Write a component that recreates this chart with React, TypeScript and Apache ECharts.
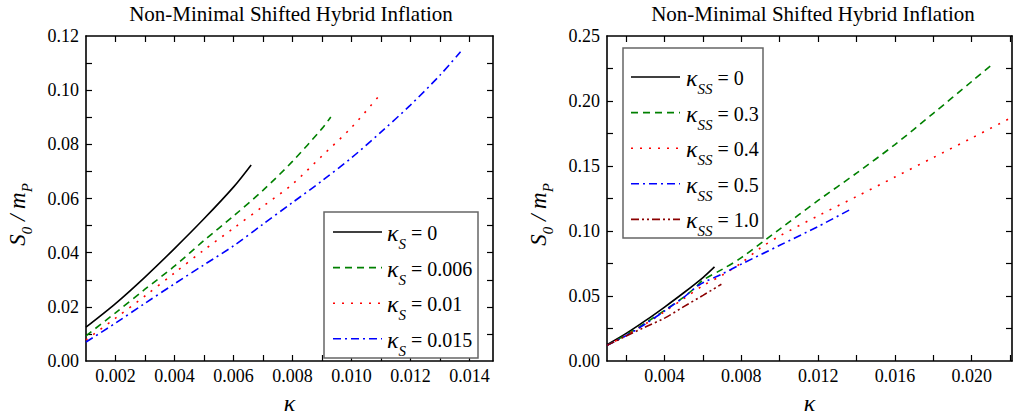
import React, { useEffect, useRef } from "react";
import * as echarts from "echarts";

// ---------- text ----------
const TITLE = "Non-Minimal Shifted Hybrid Inflation";
const X_NAME = "κ";

// ---------- left panel data (κ_S) ----------
const leftLabels = ["0", "0.006", "0.01", "0.015"];
const leftK_0 = [0.001, 0.002, 0.003, 0.004, 0.005, 0.006, 0.0066];
const leftS_0 = [0.0125, 0.0212, 0.031, 0.0415, 0.0525, 0.0642, 0.0724];
const leftK_006 = [0.001, 0.002, 0.003, 0.004, 0.005, 0.006, 0.007, 0.008, 0.009, 0.0093];
const leftS_006 = [0.0093, 0.0178, 0.0265, 0.035, 0.0445, 0.0535, 0.063, 0.0737, 0.0858, 0.0901];
const leftK_01 = [0.001, 0.002, 0.003, 0.004, 0.005, 0.006, 0.007, 0.008, 0.009, 0.01, 0.0109];
const leftS_01 = [0.0078, 0.0158, 0.024, 0.0325, 0.041, 0.049, 0.0571, 0.0653, 0.0757, 0.0862, 0.0974];
const leftK_015 = [0.001, 0.002, 0.003, 0.004, 0.005, 0.006, 0.007, 0.008, 0.009, 0.01, 0.011, 0.012, 0.013, 0.0137];
const leftS_015 = [0.007, 0.014, 0.0213, 0.0285, 0.0355, 0.0425, 0.0505, 0.0585, 0.0665, 0.075, 0.0845, 0.0945, 0.1055, 0.1142];

// ---------- right panel data (κ_SS) ----------
const rightLabels = ["0", "0.3", "0.4", "0.5", "1.0"];
const rightK_0 = leftK_0;
const rightS_0 = leftS_0;
const rightK_03 = [0.001, 0.002, 0.003, 0.004, 0.005, 0.0056, 0.006, 0.007, 0.008, 0.01, 0.012, 0.014, 0.016, 0.018, 0.02, 0.0211];
const rightS_03 = [0.012, 0.0202, 0.0292, 0.039, 0.0492, 0.0565, 0.0622, 0.0705, 0.0795, 0.1015, 0.1235, 0.1445, 0.1665, 0.1905, 0.215, 0.2285];
const rightK_04 = [0.001, 0.002, 0.003, 0.004, 0.005, 0.006, 0.007, 0.008, 0.009, 0.01, 0.012, 0.014, 0.016, 0.018, 0.02, 0.0221];
const rightS_04 = [0.012, 0.0198, 0.0285, 0.038, 0.048, 0.058, 0.066, 0.0755, 0.087, 0.0962, 0.1117, 0.1265, 0.1415, 0.1565, 0.1715, 0.1875];
const rightK_05 = [0.001, 0.002, 0.003, 0.004, 0.005, 0.0058, 0.007, 0.008, 0.01, 0.012, 0.0138];
const rightS_05 = [0.012, 0.0195, 0.0285, 0.0385, 0.049, 0.0585, 0.067, 0.0745, 0.089, 0.1035, 0.1175];
const rightK_10 = [0.001, 0.002, 0.003, 0.004, 0.005, 0.006, 0.00696];
const rightS_10 = [0.012, 0.0192, 0.0262, 0.033, 0.0418, 0.0505, 0.059];

// ---------- ticks ----------
const leftXLabels = [0.002, 0.004, 0.006, 0.008, 0.01, 0.012, 0.014];
const leftXTicks = [0.002, 0.003, 0.004, 0.005, 0.006, 0.007, 0.008, 0.009, 0.01, 0.011, 0.012, 0.013, 0.014];
const leftYLabels = [0, 0.02, 0.04, 0.06, 0.08, 0.1, 0.12];
const leftYTicks = [0.01, 0.02, 0.03, 0.04, 0.05, 0.06, 0.07, 0.08, 0.09, 0.1, 0.11];
const rightXLabels = [0.004, 0.008, 0.012, 0.016, 0.02];
const rightXTicks = [0.002, 0.004, 0.006, 0.008, 0.01, 0.012, 0.014, 0.016, 0.018, 0.02, 0.022];
const rightYLabels = [0, 0.05, 0.1, 0.15, 0.2, 0.25];
const rightYTicks = [0.025, 0.05, 0.075, 0.1, 0.125, 0.15, 0.175, 0.2, 0.225];

// ---------- styles ----------
const SERIF = "Liberation Serif";
const leftColors = ["#000000", "#008000", "#ff0000", "#0000ff"];
const leftDashes: any[] = ["solid", [7, 5], [2, 7], [8, 4, 2, 4]];
const rightColors = ["#000000", "#008000", "#ff0000", "#0000ff", "#8b0000"];
const rightDashes: any[] = ["solid", [7, 5], [2, 7], [8, 4, 2, 4], [8, 3, 2, 3, 2, 3]];

const zip = (a: number[], b: number[]) => a.map((x, i) => [x, b[i]]);

const leftData = [zip(leftK_0, leftS_0), zip(leftK_006, leftS_006), zip(leftK_01, leftS_01), zip(leftK_015, leftS_015)];
const rightData = [
  zip(rightK_0, rightS_0),
  zip(rightK_03, rightS_03),
  zip(rightK_04, rightS_04),
  zip(rightK_05, rightS_05),
  zip(rightK_10, rightS_10),
];

const GRIDS = [
  { left: 86, top: 36, width: 407, height: 332 },
  { left: 607, top: 36, width: 405, height: 332 },
];

const legendRich = {
  k: { fontFamily: SERIF, fontStyle: "italic", fontSize: 24, lineHeight: 37, fill: "#000", color: "#000" },
  s: { fontFamily: SERIF, fontStyle: "italic", fontSize: 15, verticalAlign: "bottom", fill: "#000", color: "#000" },
  t: { fontFamily: SERIF, fontSize: 20, lineHeight: 37, fill: "#000", color: "#000" },
};

const nameRich = {
  i: { fontFamily: SERIF, fontStyle: "italic", fontSize: 23, lineHeight: 34, color: "#000" },
  sub: { fontFamily: SERIF, fontStyle: "italic", fontSize: 15, verticalAlign: "bottom", color: "#000" },
};
const Y_NAME = "{i|S}{sub|0}{i| / m}{sub|P}";

function xAxes(grid: number, min: number, max: number, labels: number[], ticks: number[], digits: number) {
  const line = { show: true, onZero: false, lineStyle: { color: "#000", width: 1.6 } };
  const tick = { show: true, inside: true, length: 6, customValues: ticks, lineStyle: { color: "#000", width: 1.2 } };
  return [
    {
      type: "value", gridIndex: grid, min, max, position: "bottom",
      axisLine: line, axisTick: tick, splitLine: { show: false },
      axisLabel: {
        customValues: labels, formatter: (v: number) => v.toFixed(digits), margin: 6,
        color: "#000", fontFamily: SERIF, fontSize: 18,
      },
      name: X_NAME, nameLocation: "middle", nameGap: 30,
      nameTextStyle: { fontFamily: SERIF, fontStyle: "italic", fontSize: 24, color: "#000" },
    },
    {
      type: "value", gridIndex: grid, min, max, position: "top",
      axisLine: line, axisTick: tick, splitLine: { show: false }, axisLabel: { show: false },
    },
  ];
}

function yAxes(grid: number, min: number, max: number, labels: number[], ticks: number[]) {
  const line = { show: true, onZero: false, lineStyle: { color: "#000", width: 1.6 } };
  const tick = { show: true, inside: true, length: 6, customValues: ticks, lineStyle: { color: "#000", width: 1.2 } };
  return [
    {
      type: "value", gridIndex: grid, min, max, position: "left",
      axisLine: line, axisTick: tick, splitLine: { show: false },
      axisLabel: {
        customValues: labels, formatter: (v: number) => v.toFixed(2), margin: 7,
        color: "#000", fontFamily: SERIF, fontSize: 18,
      },
      name: Y_NAME, nameLocation: "middle", nameGap: 52,
      nameTextStyle: { fontFamily: SERIF, color: "#000", rich: nameRich, padding: [0, 32, 0, 0] },
    },
    {
      type: "value", gridIndex: grid, min, max, position: "right",
      axisLine: line, axisTick: tick, splitLine: { show: false }, axisLabel: { show: false },
    },
  ];
}

function legendGraphic(
  box: { x: number; y: number; w: number; h: number },
  firstY: number, step: number, lineX1: number, lineX2: number, textX: number,
  sub: string, labels: string[], colors: string[], dashes: any[]
) {
  const els: any[] = [
    {
      type: "rect", z: 10,
      shape: { x: box.x, y: box.y, width: box.w, height: box.h },
      style: { fill: "#fff", stroke: "#666", lineWidth: 1.5 },
    },
  ];
  labels.forEach((lab, i) => {
    const y = firstY + step * i;
    els.push({
      type: "line", z: 11,
      shape: { x1: lineX1, y1: y, x2: lineX2, y2: y },
      style: { stroke: colors[i], lineWidth: 1.6, lineDash: dashes[i] === "solid" ? null : dashes[i] },
    });
    els.push({
      type: "text", z: 11, x: textX, y: y + 1,
      style: {
        text: `{k|κ}{s|${sub}}{t| = ${lab}}`,
        rich: legendRich, align: "left", verticalAlign: "middle", fill: "#000",
      },
    });
  });
  return els;
}

export default function App() {
  const ref = useRef<HTMLDivElement>(null);
  useEffect(() => {
    if (!ref.current) return;
    const chart = echarts.init(ref.current, undefined, { renderer: "svg" });
    const series: any[] = [];
    leftData.forEach((d, i) => {
      series.push({
        type: "line", name: "κS = " + leftLabels[i], xAxisIndex: 0, yAxisIndex: 0,
        data: d, symbol: "none", showSymbol: false, smooth: 0.3, clip: true,
        lineStyle: { color: leftColors[i], width: 1.6, type: leftDashes[i] },
        itemStyle: { color: leftColors[i] },
      });
    });
    rightData.forEach((d, i) => {
      series.push({
        type: "line", name: "κSS = " + rightLabels[i], xAxisIndex: 2, yAxisIndex: 2,
        data: d, symbol: "none", showSymbol: false, smooth: 0.3, clip: true,
        lineStyle: { color: rightColors[i], width: 1.6, type: rightDashes[i] },
        itemStyle: { color: rightColors[i] },
      });
    });
    const titleStyle = { fontFamily: SERIF, fontSize: 21, fontWeight: "normal", color: "#000" };
    chart.setOption({
      animation: false,
      backgroundColor: "#fff",
      title: [
        { text: TITLE, left: 291, top: 3, textAlign: "center", padding: 0, textStyle: titleStyle },
        { text: TITLE, left: 813, top: 3, textAlign: "center", padding: 0, textStyle: titleStyle },
      ],
      grid: GRIDS.map((g) => ({ ...g, containLabel: false })),
      xAxis: [
        ...xAxes(0, 0.001, 0.0148, leftXLabels, leftXTicks, 3),
        ...xAxes(1, 0.001, 0.0221, rightXLabels, rightXTicks, 3),
      ],
      yAxis: [
        ...yAxes(0, 0, 0.12, leftYLabels, leftYTicks),
        ...yAxes(1, 0, 0.25, rightYLabels, rightYTicks),
      ],
      series,
      graphic: [
        ...legendGraphic({ x: 324, y: 212, w: 154, h: 146 }, 232, 35.6, 333, 382, 387, "S", leftLabels, leftColors, leftDashes),
        ...legendGraphic({ x: 623, y: 48, w: 140, h: 190 }, 77, 35.6, 631, 680, 686, "SS", rightLabels, rightColors, rightDashes),
      ],
    });
    return () => chart.dispose();
  }, []);
  return <div ref={ref} style={{ position: "absolute", left: 0, top: 0, width: 1014, height: 420 }} />;
}
